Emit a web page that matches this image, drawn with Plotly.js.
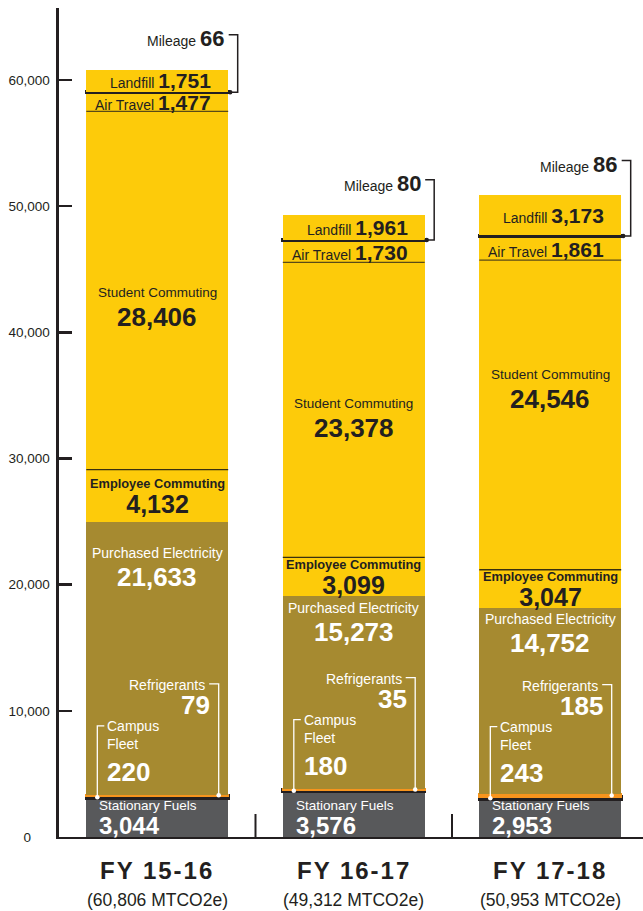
<!DOCTYPE html>
<html>
<head>
<meta charset="utf-8">
<script src="https://cdn.plot.ly/plotly-3.0.1.min.js"></script>
<style>html,body{margin:0;padding:0;background:#fff;}#chart{width:643px;height:911px;}</style>
</head>
<body>
<div id="chart"></div>
<script>
// ---- data ----
const categories = ['FY 15-16', 'FY 16-17', 'FY 17-18'];
const totalLabels = ['60,806', '49,312', '50,953'];
const stationaryFuels = [3044, 3576, 2953];
const campusFleet = [220, 180, 243];
const refrigerants = [79, 35, 185];
const purchasedElectricity = [21633, 15273, 14752];
const employeeCommuting = [4132, 3099, 3047];
const studentCommuting = [28406, 23378, 24546];
const airTravel = [1477, 1730, 1861];
const mileage = [66, 80, 86];
const landfill = [1751, 1961, 3173];
const yTickVals = [0, 10000, 20000, 30000, 40000, 50000, 60000];
const yTickText = ['0\u00a0\u00a0\u00a0\u00a0\u00a0', '10,000', '20,000', '30,000', '40,000', '50,000', '60,000'];

// ---- layout constants ----
const W = 643, H = 911, mL = 59, mR = 0, mT = 8, mB = 74;
const plotW = W - mL - mR, plotH = H - mT - mB;
const xR = [-0.5, -0.5 + plotW / 196.5];
const yR = [0, 65700];
const kx = plotW / (xR[1] - xR[0]);
const ky = plotH / (yR[1] - yR[0]);
const px2x = p => p / kx;
const px2y = p => p / ky;
const BW = 0.722, half = BW / 2;
const F = 'Liberation Sans, Arial, Helvetica, sans-serif';
const DARK = '#231F20', YEL = '#FDCB0A', OLIVE = '#A68A30', GREY = '#58595B', ORANGE = '#F7941D';
const xs = categories.map((c, i) => i);

function bar(y, color, lw, lc) {
  return {type: 'bar', x: xs, y: y, width: BW, hoverinfo: 'skip', showlegend: false,
    marker: {color: color, line: {width: lw || 0, color: lc || color}}};
}
const traces = [
  bar(stationaryFuels, GREY),
  bar(campusFleet, DARK, 3),
  bar(refrigerants, ORANGE, 2),
  bar(purchasedElectricity, OLIVE),
  bar(employeeCommuting, YEL),
  bar(studentCommuting, YEL),
  bar(airTravel, YEL),
  bar(mileage, DARK, 3),
  bar(landfill, YEL)
];

const ann = [];
const shapes = [];
const dotX = [], dotY = [], dotC = [];
const elecShift = [31, 12, 11];
const studShift = [2, -6, -40];

function A(x, y, text, o) {
  ann.push(Object.assign({x: x, y: y, xref: 'x', yref: 'y', text: text, showarrow: false,
    xanchor: 'center', yanchor: 'middle'}, o));
}

xs.forEach(i => {
  const c1 = stationaryFuels[i];
  const c2 = c1 + campusFleet[i];
  const c3 = c2 + refrigerants[i];
  const c4 = c3 + purchasedElectricity[i];
  const c5 = c4 + employeeCommuting[i];
  const c6 = c5 + studentCommuting[i];
  const c7 = c6 + airTravel[i];
  const c8 = c7 + mileage[i];
  const c9 = c8 + landfill[i];
  const xl = i - half, xr = i + half;
  const fmt = v => v.toLocaleString('en-US');
  const W14 = {family: F, size: 14, color: '#fff'};
  const N26W = {family: F, size: 26, color: '#fff'};

  // Stationary fuels (label + value as one two-line text)
  A(xl, 0, '<span style="font-size:13.5px">Stationary Fuels</span><br><span style="font-size:24px"><b>' +
      fmt(stationaryFuels[i]) + '</b></span>',
    {xanchor: 'left', yanchor: 'bottom', align: 'left', xshift: 11, yshift: -4,
     font: {family: F, size: 18.5, color: '#fff'}});

  // Campus fleet
  A(xl, c2, 'Campus<br>Fleet', {xanchor: 'left', xshift: 19, yshift: 61, align: 'left', font: W14});
  A(xl, c2, '<b>' + fmt(campusFleet[i]) + '</b>', {xanchor: 'left', xshift: 19, yshift: 24, font: N26W});
  const xbL = xl + px2x(11);
  shapes.push({type: 'path', xref: 'x', yref: 'y',
    path: `M ${xl + px2x(18)},${c2 + px2y(70)} L ${xbL},${c2 + px2y(70)} L ${xbL},${c1 + campusFleet[i] / 2}`,
    line: {color: '#fff', width: 1.3}});
  dotX.push(xbL); dotY.push(c1 + campusFleet[i] / 2); dotC.push('#fff');

  // Refrigerants
  A(xr, c2, 'Refrigerants', {xanchor: 'right', xshift: -21, yshift: 111, font: W14});
  A(xr, c2, '<b>' + fmt(refrigerants[i]) + '</b>', {xanchor: 'right', xshift: -16, yshift: 91, font: N26W});
  const xbR = xr - px2x(9.5);
  shapes.push({type: 'path', xref: 'x', yref: 'y',
    path: `M ${xr - px2x(19)},${c2 + px2y(112)} L ${xbR},${c2 + px2y(112)} L ${xbR},${c2 + refrigerants[i] / 2}`,
    line: {color: '#fff', width: 1.3}});
  dotX.push(xbR); dotY.push(c2 + refrigerants[i] / 2); dotC.push('#fff');

  // Purchased electricity
  A(i, c4, 'Purchased Electricity', {yshift: -elecShift[i], font: W14});
  A(i, c4, '<b>' + fmt(purchasedElectricity[i]) + '</b>', {yshift: -elecShift[i] - 24, font: N26W});

  // Employee commuting (label + value as one two-line text)
  const m5 = (c4 + c5) / 2;
  A(i, m5, '<span style="font-size:12.8px"><b>Employee Commuting</b></span><br><span style="font-size:25px"><b>' +
      fmt(employeeCommuting[i]) + '</b></span>',
    {yshift: -1, font: {family: F, size: 18.85, color: DARK}});

  // Student commuting
  const m6 = (c5 + c6) / 2;
  A(i, m6, 'Student Commuting', {yshift: -studShift[i], font: {family: F, size: 13.5, color: DARK}});
  A(i, m6, '<b>' + fmt(studentCommuting[i]) + '</b>', {yshift: -studShift[i] - 24, font: {family: F, size: 26, color: DARK}});

  // Air travel
  A(xr, (c6 + c7) / 2, 'Air Travel <span style="font-size:21px"><b>' + fmt(airTravel[i]) + '</b></span>',
    {xanchor: 'right', xshift: -15, yshift: -1, font: {family: F, size: 14, color: DARK}});
  // Landfill
  A(xr, (c8 + c9) / 2, 'Landfill <span style="font-size:21px"><b>' + fmt(landfill[i]) + '</b></span>',
    {xanchor: 'right', xshift: -15, yshift: 0, font: {family: F, size: 14, color: DARK}});
  // Mileage
  A(xr, c9, 'Mileage <span style="font-size:22px"><b>' + fmt(mileage[i]) + '</b></span>',
    {xanchor: 'right', xshift: -2, yshift: 31, font: {family: F, size: 14, color: DARK}});
  const xbM = xr + px2x(9.5);
  const yM = c7 + mileage[i] / 2;
  shapes.push({type: 'path', xref: 'x', yref: 'y',
    path: `M ${xr + px2x(0.5)},${c9 + px2y(35)} L ${xbM},${c9 + px2y(35)} L ${xbM},${yM} L ${xr + px2x(2)},${yM}`,
    line: {color: DARK, width: 1.5}});
  dotX.push(xr + px2x(2)); dotY.push(yM); dotC.push(DARK);

  // boundary lines
  shapes.push({type: 'line', xref: 'x', yref: 'y', x0: xl, x1: xr, y0: c5, y1: c5, line: {color: '#3a300f', width: 1.3}});
  shapes.push({type: 'line', xref: 'x', yref: 'y', x0: xl, x1: xr, y0: c6, y1: c6, line: {color: '#5a4a17', width: 1.3}});

  // category labels
  ann.push({x: i, y: 0, xref: 'x', yref: 'paper', showarrow: false, yanchor: 'middle', yshift: -33,
    text: '<b><span style="letter-spacing:2px">' + categories[i] + '</span></b>',
    font: {family: F, size: 24, color: DARK}});
  ann.push({x: i, y: 0, xref: 'x', yref: 'paper', showarrow: false, yanchor: 'middle', yshift: -63,
    text: '(' + totalLabels[i] + ' MTCO2e)', font: {family: F, size: 17.5, color: DARK}});
});

// separator ticks between categories
[0.5, 1.5].forEach(b => shapes.push({type: 'line', xref: 'x', yref: 'y', x0: b, x1: b, y0: 0, y1: px2y(23),
  line: {color: DARK, width: 2}}));

traces.push({type: 'scatter', mode: 'markers', x: dotX, y: dotY, hoverinfo: 'skip', showlegend: false,
  cliponaxis: false, marker: {size: 4.5, color: dotC}});

const layout = {
  width: W, height: H,
  margin: {l: mL, r: mR, t: mT, b: mB, pad: 0},
  paper_bgcolor: '#fff', plot_bgcolor: '#fff',
  barmode: 'stack', showlegend: false, hovermode: false,
  xaxis: {range: xR, showgrid: false, zeroline: false, showticklabels: false, ticks: '',
    showline: true, linecolor: DARK, linewidth: 2, fixedrange: true},
  yaxis: {range: yR, showgrid: false, zeroline: false, showline: true, linecolor: DARK, linewidth: 2.6,
    tickvals: yTickVals, ticktext: yTickText, ticks: 'inside', ticklen: 13, tickwidth: 2.6, tickcolor: DARK,
    tickfont: {family: F, size: 13.5, color: DARK}, ticklabelstandoff: 4, fixedrange: true},
  annotations: ann,
  shapes: shapes
};
Plotly.newPlot('chart', traces, layout, {staticPlot: true, displayModeBar: false});
</script>
</body>
</html>
